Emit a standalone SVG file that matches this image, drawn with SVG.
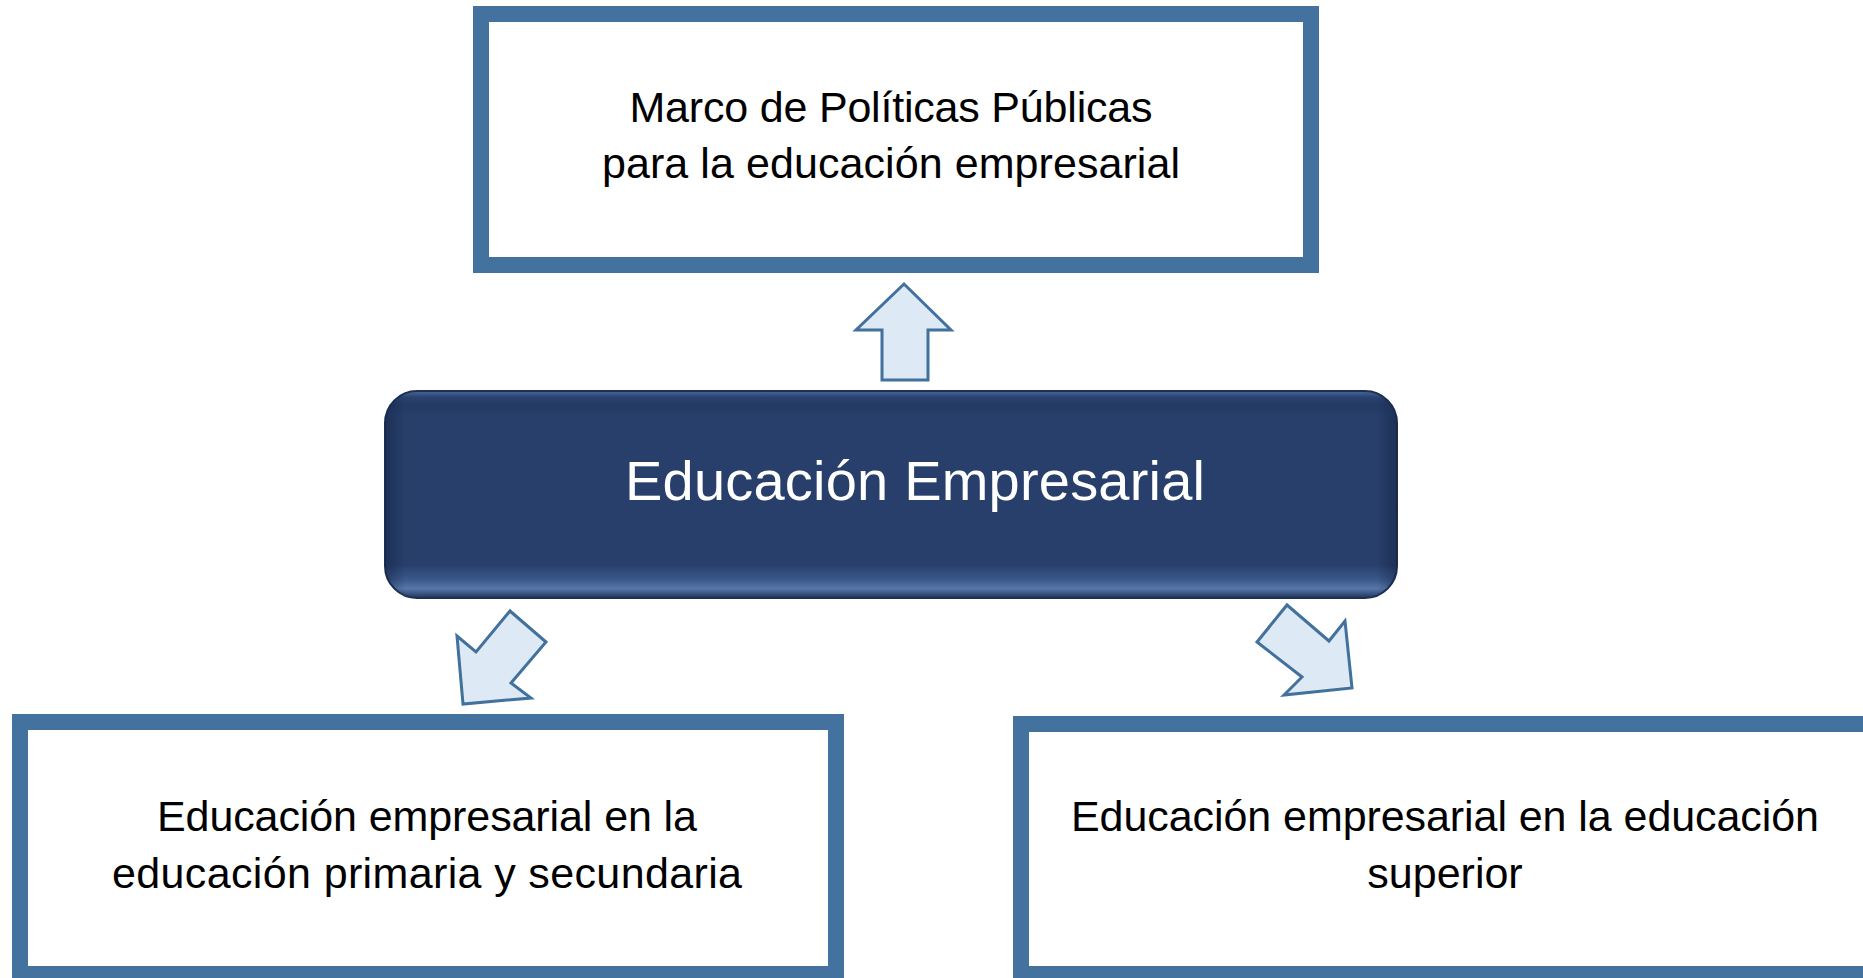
<svg xmlns="http://www.w3.org/2000/svg" width="1863" height="978" viewBox="0 0 1863 978">
  <style>
    .box { fill: #ffffff; stroke: #44729e; stroke-width: 16; }
    .lbl { font-family: "Liberation Sans", Arial, sans-serif; font-size: 43px; fill: #000000; text-anchor: middle; }
    .main { font-family: "Liberation Sans", Arial, sans-serif; font-size: 56px; fill: #ffffff; text-anchor: middle; }
    .arrow { fill: #dde9f5; stroke: #41719c; stroke-width: 3; stroke-linejoin: miter; }
  </style>
  <defs>
    <linearGradient id="gv" x1="0" y1="0" x2="0" y2="1">
      <stop offset="0" stop-color="#4a6898"/>
      <stop offset="0.03" stop-color="#2a4270"/>
      <stop offset="0.07" stop-color="#233a64"/>
      <stop offset="0.12" stop-color="#283f6b"/>
      <stop offset="0.84" stop-color="#283f6b"/>
      <stop offset="0.91" stop-color="#3a5889"/>
      <stop offset="0.955" stop-color="#5877aa"/>
      <stop offset="1" stop-color="#1f3459"/>
    </linearGradient>
    <linearGradient id="gh" x1="0" y1="0" x2="1" y2="0">
      <stop offset="0" stop-color="#0f1f3d" stop-opacity="0.45"/>
      <stop offset="0.02" stop-color="#0f1f3d" stop-opacity="0"/>
      <stop offset="0.98" stop-color="#0f1f3d" stop-opacity="0"/>
      <stop offset="1" stop-color="#0f1f3d" stop-opacity="0.45"/>
    </linearGradient>
  </defs>
  <rect width="1863" height="978" fill="#ffffff"/>

  <g id="connectors">
    <polygon class="arrow" points="904,284 856,330 882,330 882,380 928,380 928,330 951,330"/>
    <polygon class="arrow" points="463,704 457,636 476,652 510,611 546,642 511,683 531,698"/>
    <polygon class="arrow" points="1352,688 1345,621 1329,641 1287,605 1257,642 1302,677 1284,695"/>
  </g>

  <g id="node-marco">
    <rect class="box" x="481" y="14" width="830" height="251"/>
    <text class="lbl" x="891" y="122" textLength="523">Marco de Políticas Públicas</text>
    <text class="lbl" x="891" y="178" textLength="578">para la educación empresarial</text>
  </g>

  <g id="node-educacion-empresarial">
    <rect x="385" y="391" width="1012" height="207" rx="32" ry="32" fill="url(#gv)" stroke="#1d3054" stroke-width="2"/>
    <rect x="385" y="391" width="1012" height="207" rx="32" ry="32" fill="url(#gh)"/>
    <text class="main" x="915" y="500" textLength="580">Educación Empresarial</text>
  </g>

  <g id="node-primaria">
    <rect class="box" x="20" y="722" width="816" height="252"/>
    <text class="lbl" x="427" y="831" textLength="540">Educación empresarial en la</text>
    <text class="lbl" x="427" y="888" textLength="630">educación primaria y secundaria</text>
  </g>

  <g id="node-superior">
    <rect class="box" x="1021" y="724" width="900" height="250"/>
    <text class="lbl" x="1445" y="831" textLength="748">Educación empresarial en la educación</text>
    <text class="lbl" x="1445" y="888">superior</text>
  </g>
</svg>
